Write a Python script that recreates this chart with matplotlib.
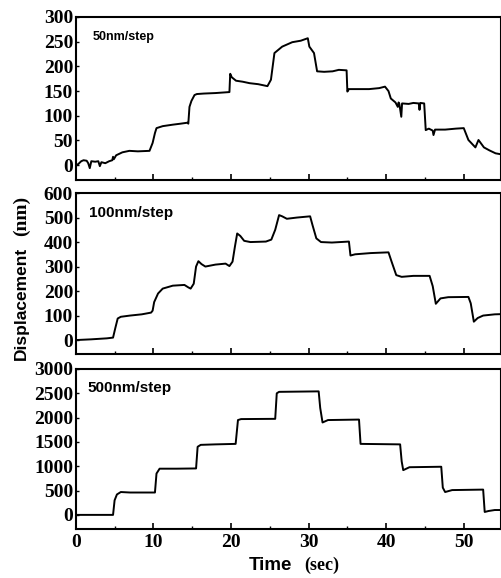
import numpy as np
import matplotlib.pyplot as plt
from matplotlib.ticker import MultipleLocator

# trace (time in s, displacement in nm)
t1 = [0, 0.3, 0.7, 1.0, 1.4, 1.6, 1.8, 2.0, 2.5, 2.9,
      3.1, 3.3, 3.8, 4.3, 4.7, 4.8, 4.9, 5.2, 6.0, 6.9,
      8.0, 9.5, 9.7, 9.9, 10.2, 10.4, 11.2, 12.5, 13.5, 14.4,
      14.5, 14.65, 14.9, 15.3, 15.6, 16.5, 18.0, 19.8, 19.9, 20.1,
      20.65, 21.5, 22.4, 23.5, 24.7, 25.15, 25.6, 26.6, 27.9, 29.0,
      29.9, 30.1, 30.7, 31.1, 32.0, 33.1, 33.9, 34.9, 35.0, 35.2,
      36.5, 37.8, 39.1, 39.85, 40.3, 40.6, 41.2, 41.5, 41.6, 41.7,
      41.95, 42.05, 42.9, 43.5, 44.2, 44.3, 44.4, 44.9, 45.1, 45.5,
      46.0, 46.1, 46.3, 47.6, 49.0, 50.0, 50.6, 51.5, 51.9, 52.6,
      53.3, 54.1, 54.8]
y1 = [0, 2, 8, 10, 9, 4, -6, 8, 7, 8,
      -2, 6, 4, 8, 10, 17, 12, 20, 26, 29,
      28, 29, 37, 45, 65, 75, 79, 82, 84, 86,
      84, 118, 130, 142, 144, 145, 146, 148, 185, 178,
      171, 169, 166, 164, 160, 173, 227, 240, 249, 252,
      257, 240, 227, 190, 189, 190, 193, 192, 149, 154,
      154, 154, 156, 159, 150, 135, 127, 118, 127, 124,
      98, 125, 124, 126, 125, 112, 126, 125, 71, 74,
      70, 61, 72, 72, 74, 75, 51, 36, 51, 36,
      30, 24, 22]

# 100 nm/step panel
t2 = [0, 2, 4, 4.8, 5.1, 5.4, 5.8, 7, 8.5, 9.7, 9.9, 10.1, 10.6, 11.2, 12.5, 14,
      14.5, 14.8, 15.2, 15.5, 15.8, 16.2, 16.7, 18, 19.3, 19.8, 20.2, 20.5, 20.8,
      21.2, 21.7, 22.5, 24.5, 25.2, 25.7, 26.2, 26.6, 27.2, 28.5, 30.2, 30.5,
      31.0, 31.6, 33, 35.2, 35.4, 36, 38, 40.3, 40.7, 41.3, 42, 43.5, 45.6,
      46.0, 46.4, 47, 48, 50.6, 50.9, 51.3, 51.8, 52.5, 54, 55]
y2 = [0, 3, 7, 10, 50, 88, 95, 100, 105, 112, 120, 155, 190, 210, 222, 225,
      215, 210, 230, 300, 322, 310, 300, 308, 312, 302, 320, 380, 435,
      425, 405, 400, 402, 410, 450, 510, 505, 495, 500, 505, 470,
      415, 400, 398, 402, 345, 350, 355, 358, 320, 265, 258, 262, 262,
      220, 148, 170, 175, 176, 150, 75, 90, 100, 105, 106]

# 500 nm/step panel
t3 = [0, 4.8, 5.0, 5.3, 5.8, 7, 10.2, 10.4, 10.8, 13, 15.5, 15.7, 16.1, 18, 20.6,
      20.9, 21.3, 25.7, 25.9, 26.2, 31.3, 31.5, 31.8, 32.5, 36.5, 36.7, 41.8,
      42.0, 42.2, 43, 47.1, 47.3, 47.6, 48.5, 52.5, 52.7, 53.2, 54, 55]
y3 = [0, 0, 300, 420, 470, 460, 460, 850, 950, 950, 955, 1400, 1440, 1450, 1460,
      1950, 1970, 1975, 2500, 2530, 2540, 2200, 1900, 1950, 1960, 1460, 1450,
      1100, 920, 980, 990, 560, 470, 510, 520, 60, 80, 100, 100]

labels = ['50nm/step', '100nm/step', '500nm/step']
ylims = [(-30, 300), (-57, 600), (-290, 3000)]
ysteps = [50, 100, 500]

fig = plt.figure(figsize=(5.02, 5.78), dpi=100)
boxes = [(0.9706, 0.6886), (0.666, 0.3875), (0.3616, 0.0848)]
lab_pos = [(0.04, 0.88, 9), (0.03, 0.876, 11), (0.027, 0.88, 11)]
left, right = 0.151, 0.998

serif = 'Liberation Serif'
sans = 'Liberation Sans'

axes = []
for (top, bot), t, y, lab, yl, ys, lp in zip(boxes, [t1, t2, t3], [y1, y2, y3],
                                           labels, ylims, ysteps, lab_pos):
    ax = fig.add_axes([left, bot, right - left, top - bot])
    ax.plot(t, y, color='black', lw=1.4)
    ax.set_xlim(0, 54.8)
    ax.set_ylim(*yl)
    ax.yaxis.set_major_locator(MultipleLocator(ys))
    ax.xaxis.set_major_locator(MultipleLocator(10))
    ax.xaxis.set_minor_locator(MultipleLocator(5))
    ax.tick_params(axis='x', which='major', direction='in', length=4, width=1.2)
    ax.tick_params(axis='x', which='minor', direction='in', length=2, width=1)
    ax.tick_params(axis='y', direction='in', length=2, width=1, pad=2)
    for s in ax.spines.values():
        s.set_linewidth(1.5)
    for lbl in ax.get_yticklabels():
        lbl.set_fontfamily(serif)
        lbl.set_fontweight('bold')
        lbl.set_fontsize(14)
    ax.text(lp[0], lp[1], lab, transform=ax.transAxes, fontsize=lp[2],
            fontfamily=sans, fontweight='bold', va='center', ha='left')
    axes.append(ax)

for ax in axes[:2]:
    ax.tick_params(axis='x', labelbottom=False)
for lbl in axes[2].get_xticklabels():
    lbl.set_fontfamily(serif)
    lbl.set_fontweight('bold')
    lbl.set_fontsize(14)

fig.text(0.042, 0.475, 'Displacement', rotation=90, fontsize=12.5,
         fontfamily=sans, fontweight='bold', ha='center', va='center')
fig.text(0.042, 0.627, '(nm)', rotation=90, fontsize=14,
         fontfamily=serif, fontweight='bold', ha='center', va='center')
fig.text(0.538, 0.022, 'Time', fontsize=13.5, fontfamily=sans,
         fontweight='bold', ha='center', va='center')
fig.text(0.64, 0.022, '(sec)', fontsize=13, fontfamily=serif,
         fontweight='bold', ha='center', va='center')

fig.savefig('out.png', dpi=100)
